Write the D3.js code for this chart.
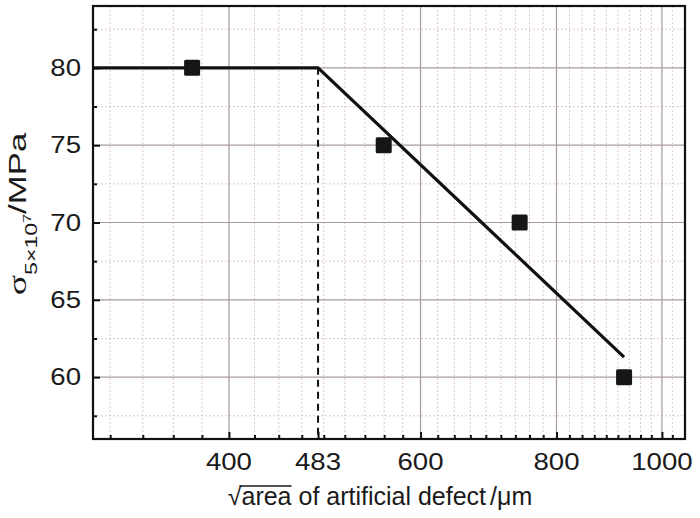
<!DOCTYPE html>
<html>
<head>
<meta charset="utf-8">
<script src="https://cdn.jsdelivr.net/npm/d3@7"></script>
<style>
  html, body { margin: 0; padding: 0; background: #fff; }
  svg { display: block; }
  text { font-family: "Liberation Sans", Arial, sans-serif; fill: #1a1a1a; }
</style>
</head>
<body>
<svg id="chart" width="700" height="518"></svg>
<script>
// ---- data ----
const defectSize = [370, 555, 740, 923];        // sqrt(area), µm
const fatigueStrength = [80, 75, 70, 60];       // MPa
const fitX = [300, 483, 923];                    // fitted curve knots
const fitY = [80, 80, 61.3];
const kneeX = 483;
const kneeY = 80;
const xTickValues = [400, 483, 600, 800, 1000];
const xGridMajor = [400, 600, 800, 1000];
const yTickValues = [60, 65, 70, 75, 80];
const yMinorValues = [57.5, 62.5, 67.5, 72.5, 77.5, 82.5];

// ---- layout ----
const L = 93, R = 685, T = 6, B = 439;
const svg = d3.select("#chart");

const x = d3.scaleLog().domain([300, 1050]).range([L, R]);
const y = d3.scaleLinear().domain([56, 84]).range([B, T]);

// minor x ticks: 8 per major interval (step 200/9)
const step = 200 / 9;
const xMinor = [];
for (let v = 400 - step; v > 300.5; v -= step) xMinor.push(v);
for (let i = 0; i < xGridMajor.length; i++) {
  const a = xGridMajor[i];
  for (let k = 1; k <= 8; k++) {
    const v = a + k * step;
    if (v < 1040) xMinor.push(v);
  }
}

const g = svg.append("g");

// minor grid (dotted)
g.selectAll(".vminor").data(xMinor).enter().append("line")
  .attr("x1", d => x(d)).attr("x2", d => x(d))
  .attr("y1", T).attr("y2", B)
  .attr("stroke", "#dcc8c8").attr("stroke-width", 1)
  .attr("stroke-dasharray", "2,2");
g.selectAll(".hminor").data(yMinorValues).enter().append("line")
  .attr("x1", L).attr("x2", R)
  .attr("y1", d => y(d)).attr("y2", d => y(d))
  .attr("stroke", "#dcc8c8").attr("stroke-width", 1)
  .attr("stroke-dasharray", "2,2");

// major grid (solid)
g.selectAll(".vmajor").data(xGridMajor).enter().append("line")
  .attr("x1", d => x(d)).attr("x2", d => x(d))
  .attr("y1", T).attr("y2", B)
  .attr("stroke", "#a99a9a").attr("stroke-width", 1.2);
g.selectAll(".hmajor").data(yTickValues).enter().append("line")
  .attr("x1", L).attr("x2", R)
  .attr("y1", d => y(d)).attr("y2", d => y(d))
  .attr("stroke", "#a99a9a").attr("stroke-width", 1.2);

// axes ticks (inward)
const xAxisMajor = d3.axisTop(x).tickValues(xTickValues).tickSize(7).tickFormat("");
const xAxisMinor = d3.axisTop(x).tickValues(xMinor).tickSize(4).tickFormat("");
const yAxisMajor = d3.axisRight(y).tickValues(yTickValues).tickSize(7).tickFormat("");
const yAxisMinor = d3.axisRight(y).tickValues(yMinorValues).tickSize(4).tickFormat("");

[xAxisMajor, xAxisMinor].forEach(ax => {
  const a = svg.append("g").attr("transform", `translate(0,${B})`).call(ax);
  a.select(".domain").remove();
  a.selectAll("line").attr("stroke", "#111").attr("stroke-width", 2);
});
[yAxisMajor, yAxisMinor].forEach(ax => {
  const a = svg.append("g").attr("transform", `translate(${L},0)`).call(ax);
  a.select(".domain").remove();
  a.selectAll("line").attr("stroke", "#111").attr("stroke-width", 2);
});

// tick labels (slightly widened to match the reference lettering)
svg.selectAll(".xl").data(xTickValues).enter().append("text")
  .attr("transform", d => `translate(${x(d)},470) scale(1.2,1)`)
  .attr("text-anchor", "middle").attr("font-size", 23)
  .text(d => d);
svg.selectAll(".yl").data(yTickValues).enter().append("text")
  .attr("transform", d => `translate(81,${y(d) + 8.2}) scale(1.2,1)`)
  .attr("text-anchor", "end").attr("font-size", 23)
  .text(d => d);

// dashed knee line
svg.append("line")
  .attr("x1", x(kneeX)).attr("x2", x(kneeX))
  .attr("y1", y(kneeY)).attr("y2", B)
  .attr("stroke", "#111").attr("stroke-width", 2)
  .attr("stroke-dasharray", "7,5");

// fitted line
const line = d3.line().x(d => x(d[0])).y(d => y(d[1]));
svg.append("path")
  .datum(fitX.map((v, i) => [v, fitY[i]]))
  .attr("d", line)
  .attr("fill", "none").attr("stroke", "#111").attr("stroke-width", 3.2)
  .attr("stroke-linejoin", "miter");

// markers
const ms = 16;
svg.selectAll(".pt").data(defectSize.map((v, i) => [v, fatigueStrength[i]])).enter()
  .append("rect")
  .attr("x", d => x(d[0]) - ms / 2).attr("y", d => y(d[1]) - ms / 2)
  .attr("width", ms).attr("height", ms).attr("rx", 1.5)
  .attr("fill", "#161616");

// frame
svg.append("rect")
  .attr("x", L).attr("y", T).attr("width", R - L).attr("height", B - T)
  .attr("fill", "none").attr("stroke", "#111").attr("stroke-width", 2.2);

// x label
const xl = svg.append("text")
  .attr("x", 380).attr("y", 505).attr("text-anchor", "middle").attr("font-size", 25);
xl.append("tspan").text("\u221A");
xl.append("tspan").text("area");
xl.append("tspan").text(" of artificial defect");
xl.append("tspan").attr("dx", 4).text("/");
xl.append("tspan").text("\u03BCm");
// vinculum over "area"
const xn = xl.node();
const s0 = xn.getExtentOfChar(0);
const e4 = xn.getEndPositionOfChar(4);
svg.append("line")
  .attr("x1", s0.x + s0.width - 2).attr("x2", e4.x)
  .attr("y1", 486).attr("y2", 486)
  .attr("stroke", "#1a1a1a").attr("stroke-width", 1.6);

// y label
const yl = svg.append("text")
  .attr("transform", "translate(26,214) rotate(-90) scale(1.45,1)")
  .attr("text-anchor", "middle").attr("font-size", 24);
yl.append("tspan").style("font-family", "'Liberation Serif', 'DejaVu Serif', serif").attr("font-size", 26).text("\u03C3");
yl.append("tspan").attr("font-size", 16).attr("dy", 11).text("5\u00D710");
yl.append("tspan").attr("font-size", 11).attr("dy", -6).text("7");
yl.append("tspan").attr("dy", -5).text("/MPa");
</script>
</body>
</html>
